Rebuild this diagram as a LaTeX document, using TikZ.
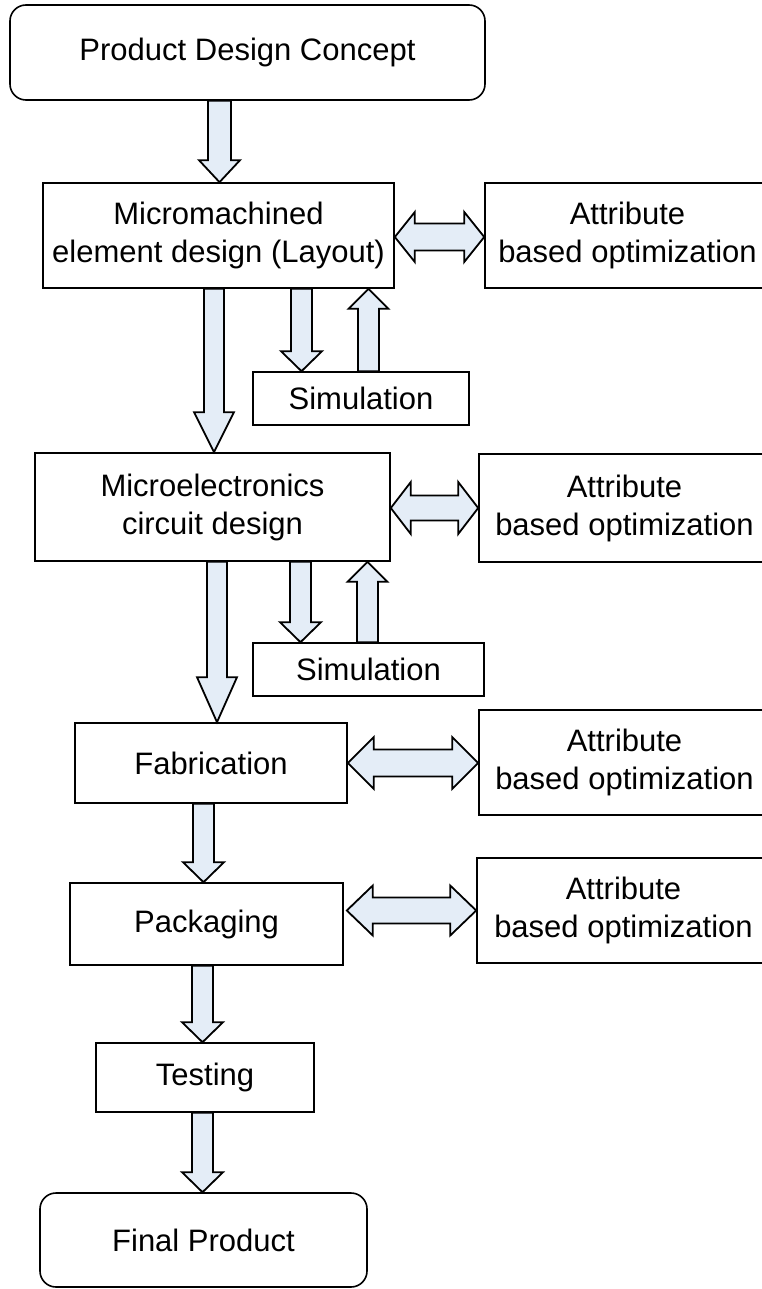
\documentclass[tikz,border=0pt]{standalone}
\usepackage{fontspec}
\setmainfont{Liberation Sans}
\usetikzlibrary{calc}

\definecolor{arrowfill}{RGB}{228,237,247}

\tikzset{
  box/.style={draw=black, line width=1.6pt, fill=white, inner sep=0pt,
              align=center, font=\fontsize{31}{38}\selectfont},
  roundbox/.style={box, rounded corners=16pt},
  blk/.style={draw=black, line width=1.8pt, fill=arrowfill, line join=miter},
}

% block arrow pointing down: #1 start (gives x and top y), #2 end (gives tip y),
% #3 half shaft width, #4 half head width, #5 head length
\newcommand{\downblk}[5]{%
  \draw[blk] let \p1=#1, \p2=#2 in
    (\x1-#3,\y1) -- (\x1-#3,\y2+#5) -- (\x1-#4,\y2+#5) -- (\x1,\y2)
    -- (\x1+#4,\y2+#5) -- (\x1+#3,\y2+#5) -- (\x1+#3,\y1) -- cycle;}
% block arrow pointing up: #1 base (gives x and bottom y), #2 end (gives tip y)
\newcommand{\upblk}[5]{%
  \draw[blk] let \p1=#1, \p2=#2 in
    (\x1-#3,\y1) -- (\x1-#3,\y2-#5) -- (\x1-#4,\y2-#5) -- (\x1,\y2)
    -- (\x1+#4,\y2-#5) -- (\x1+#3,\y2-#5) -- (\x1+#3,\y1) -- cycle;}
% double-headed horizontal block arrow: #1 left tip (gives y), #2 right tip
\newcommand{\lrblk}[5]{%
  \draw[blk] let \p1=#1, \p2=#2 in
    (\x1,\y1) -- (\x1+#5,\y1+#4) -- (\x1+#5,\y1+#3) -- (\x2-#5,\y1+#3)
    -- (\x2-#5,\y1+#4) -- (\x2,\y1) -- (\x2-#5,\y1-#4) -- (\x2-#5,\y1-#3)
    -- (\x1+#5,\y1-#3) -- (\x1+#5,\y1-#4) -- cycle;}

\begin{document}
\begin{tikzpicture}[x=1pt, y=-1pt]
  \useasboundingbox (0,0) rectangle (762,1289);

  % main flow
  \node[roundbox, minimum width=475pt, minimum height=95pt] (pdc) at (247.5,52.5) {Product Design Concept};
  \node[box, minimum width=351pt, minimum height=105pt] (mm) at (218.5,235.5) {Micromachined\\element design (Layout)};
  \node[box, minimum width=216pt, minimum height=53pt] (sim1) at (361,398.5) {Simulation};
  \node[box, minimum width=355pt, minimum height=108pt] (me) at (212.5,507) {Microelectronics\\circuit design};
  \node[box, minimum width=231pt, minimum height=53pt] (sim2) at (368.5,669.5) {Simulation};
  \node[box, minimum width=272pt, minimum height=80pt] (fab) at (211,763) {Fabrication};
  \node[box, minimum width=273pt, minimum height=82pt] (pack) at (206.5,924) {Packaging};
  \node[box, minimum width=218pt, minimum height=69pt] (test) at (205,1077.5) {Testing};
  \node[roundbox, minimum width=327pt, minimum height=94pt] (final) at (203.5,1240) {Final Product};

  % optimization boxes on the right
  \node[box, minimum width=285pt, minimum height=105pt] (attr1) at (627.5,235.5) {Attribute\\based optimization};
  \node[box, minimum width=291pt, minimum height=108pt] (attr2) at (624.5,508) {Attribute\\based optimization};
  \node[box, minimum width=291pt, minimum height=105pt] (attr3) at (624.5,762.5) {Attribute\\based optimization};
  \node[box, minimum width=293pt, minimum height=105pt] (attr4) at (623.5,910.5) {Attribute\\based optimization};

  % vertical flow arrows
  \downblk{($(pdc.south -| mm.north)+(1,0)$)}{(mm.north)}{11.5}{20.5}{22}
  \downblk{($(mm.south)+(-4.5,0)$)}{(me.north)}{10}{20}{40}
  \downblk{($(mm.south -| sim1.north)+(-59.5,0)$)}{(sim1.north)}{10.5}{20.5}{20}
  \upblk{($(sim1.north)+(7.5,0)$)}{(mm.south)}{10.5}{20}{20}
  \downblk{($(me.south)+(4.5,0)$)}{(fab.north)}{10}{20}{45}
  \downblk{($(me.south -| sim2.north)+(-68,0)$)}{(sim2.north)}{10.5}{20.5}{20}
  \upblk{($(sim2.north)+(-1,0)$)}{(me.south)}{10.5}{20}{20}
  \downblk{($(fab.south)+(-7.5,0)$)}{(pack.north)}{10.5}{20.5}{20}
  \downblk{($(pack.south)+(-4,0)$)}{(test.north)}{10.5}{20.5}{20}
  \downblk{($(test.south)+(-2.5,0)$)}{(final.north)}{10.5}{20.5}{20}

  % links to the optimization boxes
  \lrblk{($(mm.east)+(0,1.5)$)}{(attr1.west)}{13.5}{25}{20}
  \lrblk{($(me.east)+(0,1)$)}{(attr2.west)}{12.5}{26}{20}
  \lrblk{(fab.east)}{(attr3.west)}{13.5}{26}{26}
  \lrblk{($(pack.east |- attr4.west)+(3,0)$)}{(attr4.west)}{13}{25}{26}
\end{tikzpicture}
\end{document}
